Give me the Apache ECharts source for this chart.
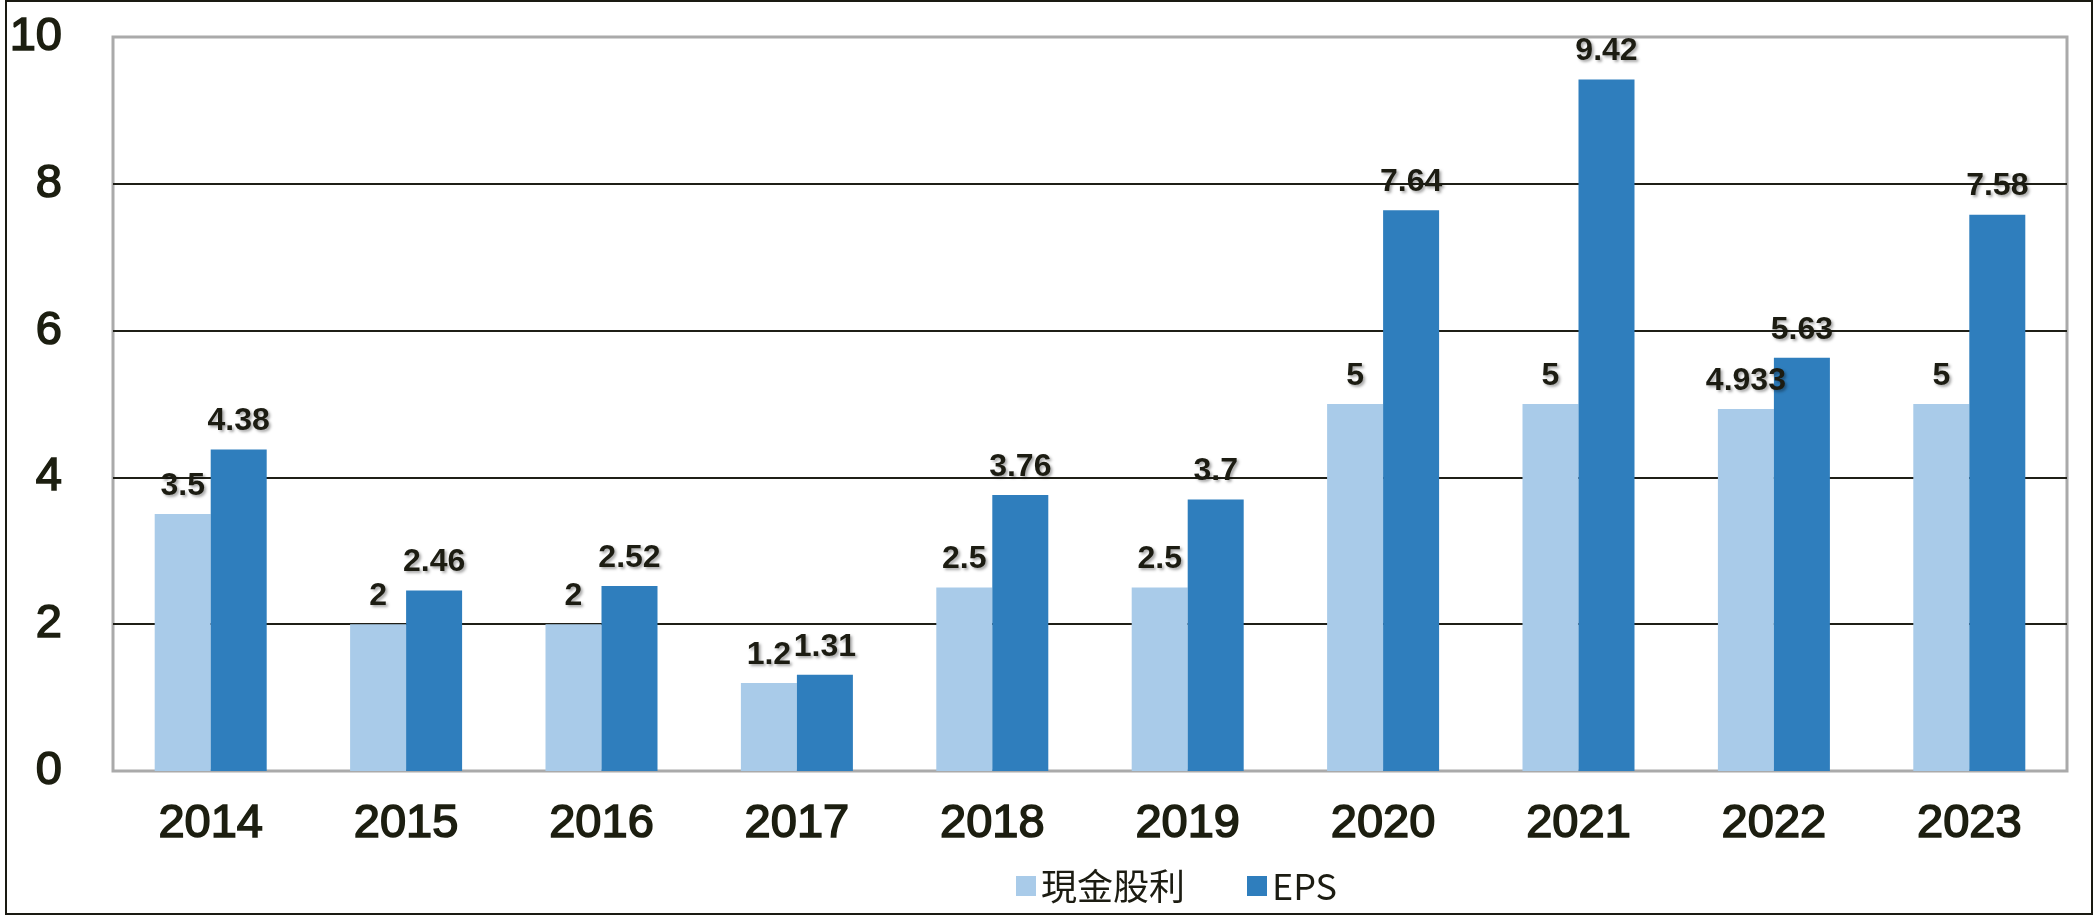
<!DOCTYPE html>
<html>
<head>
<meta charset="utf-8">
<script src="https://cdn.jsdelivr.net/npm/echarts@6/dist/echarts.min.js"></script>
<style>
html,body{margin:0;padding:0;background:#fff;}
#chart{width:2098px;height:916px;}
</style>
</head>
<body>
<div id="chart"></div>
<script>
const categories = ['2014','2015','2016','2017','2018','2019','2020','2021','2022','2023'];
const cashDividend = [3.5, 2, 2, 1.2, 2.5, 2.5, 5, 5, 4.933, 5];
const eps = [4.38, 2.46, 2.52, 1.31, 3.76, 3.7, 7.64, 9.42, 5.63, 7.58];
const seriesNames = ['現金股利', 'EPS'];

const chart = echarts.init(document.getElementById('chart'), null, {renderer:'canvas'});
const labelStyle = {
  show: true,
  position: 'top',
  distance: 12,
  fontFamily: 'Liberation Sans, Arial, sans-serif',
  fontWeight: 'bold',
  fontSize: 32,
  color: '#1c1c12',
  textShadowColor: 'rgba(0,0,0,0.35)',
  textShadowBlur: 3,
  textShadowOffsetX: 2,
  textShadowOffsetY: 2
};
const axisFont = {
  fontFamily: 'Liberation Sans, Arial, sans-serif',
  fontSize: 47,
  color: '#1c1e10',
  textBorderColor: '#1c1e10',
  textBorderWidth: 1.6
};
chart.setOption({
  animation: false,
  backgroundColor: '#fff',
  graphic: [{
    type: 'rect',
    shape: {x: 6, y: 1, width: 2086, height: 913},
    style: {fill: 'none', stroke: '#1a1a12', lineWidth: 2},
    silent: true
  }],
  grid: {
    left: 113, right: 31, top: 37, bottom: 145,
    show: true, borderColor: '#aaaaaa', borderWidth: 3, backgroundColor: 'transparent'
  },
  legend: {
    left: 1011, top: 863,
    itemWidth: 20, itemHeight: 20, itemGap: 62,
    icon: 'rect',
    textStyle: {fontFamily: 'Noto Sans CJK TC, Noto Sans, sans-serif', fontSize: 36, color: '#1c1c12', padding: [0,0,0,0]},
    data: seriesNames
  },
  xAxis: {
    type: 'category',
    data: categories,
    axisLine: {show: false},
    axisTick: {show: false},
    axisLabel: Object.assign({margin: 30}, axisFont)
  },
  yAxis: {
    type: 'value',
    min: 0, max: 10, interval: 2,
    axisLine: {show: false},
    axisTick: {show: false},
    axisLabel: Object.assign({margin: 51}, axisFont),
    splitLine: {lineStyle: {color: ['#aaaaaa','#1f1f17','#1f1f17','#1f1f17','#1f1f17','#aaaaaa'], width: 2}}
  },
  series: [
    {name: seriesNames[0], type: 'bar', data: cashDividend, barWidth: 56, barGap: '0%',
     itemStyle: {color: '#a9cbe9'}, label: labelStyle},
    {name: seriesNames[1], type: 'bar', data: eps, barWidth: 56, barGap: '0%',
     itemStyle: {color: '#2f7ebd'}, label: labelStyle}
  ]
});
</script>
</body>
</html>
